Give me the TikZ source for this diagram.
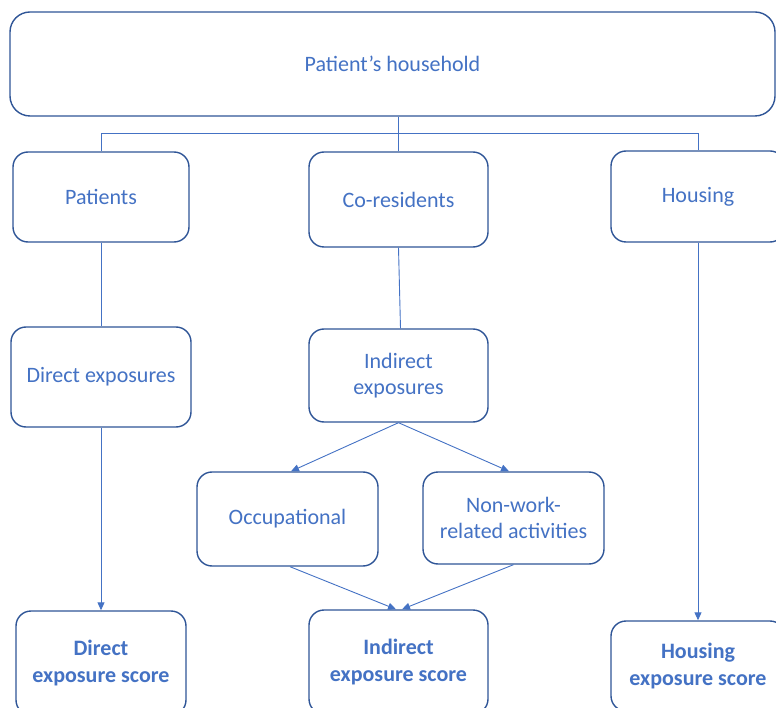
\documentclass[tikz,border=0pt]{standalone}
\usepackage{fontspec}
\setmainfont{Carlito}
\usetikzlibrary{arrows.meta}
\definecolor{boxline}{HTML}{2F5597}
\definecolor{txtblue}{HTML}{4472C4}
\definecolor{lineblue}{HTML}{4472C4}
\begin{document}
\begin{tikzpicture}[x=1pt,y=-1pt,
  box/.style={draw=boxline, line width=1.4pt, rounded corners=15pt, fill=white,
    text=txtblue, align=center, font=\fontsize{22}{26.5}\selectfont, inner sep=0pt},
  scorebox/.style={box, font=\fontsize{22}{26.5}\selectfont\bfseries},
  conn/.style={draw=lineblue, line width=0.9pt},
  arr/.style={conn, -{Triangle[length=8pt,width=7pt]}}]
\useasboundingbox (0,0) rectangle (776,708);
\node[box, minimum width=765pt, minimum height=104pt, rounded corners=20pt] (top) at (392.5,64) {Patient’s household};
\node[box, minimum width=176pt, minimum height=90pt] (pat) at (101,197) {Patients};
\node[box, minimum width=179pt, minimum height=95pt] (cor) at (398.5,199.5) {Co-residents};
\node[box, minimum width=174pt, minimum height=91pt] (hou) at (698,196.5) {Housing};
\node[box, minimum width=180pt, minimum height=100pt] (dexp) at (101,377) {Direct exposures};
\node[box, minimum width=179pt, minimum height=93pt] (iexp) at (398.5,375.5) {Indirect\\exposures};
\node[box, minimum width=181pt, minimum height=94pt] (occ) at (287.5,519) {Occupational};
\node[box, minimum width=181pt, minimum height=92pt] (nw) at (513.5,518) {Non-work-\\related activities};
\node[scorebox, minimum width=170pt, minimum height=104pt] (dscore) at (101,663) {Direct\\exposure score};
\node[scorebox, minimum width=179pt, minimum height=104pt] (iscore) at (398.5,662) {Indirect\\exposure score};
\node[scorebox, minimum width=174pt, minimum height=90pt] (hscore) at (698,666) {Housing\\exposure score};
\coordinate (j) at (398.5,133.5);
\draw[conn] (top.south -| cor.north) -- (cor.north);
\draw[conn] (j) -| (pat.north);
\draw[conn] (j) -| (hou.north);
\draw[conn] (pat.south) -- (dexp.north);
\draw[conn] (cor.south) -- ([xshift=2pt]iexp.north);
\draw[arr] (iexp.south) -- ([xshift=3.5pt]occ.north);
\draw[arr] (iexp.south) -- ([xshift=-4.5pt]nw.north);
\draw[arr] ([xshift=2.5pt]occ.south) -- ([xshift=-2.5pt]iscore.north);
\draw[arr] (nw.south) -- ([xshift=3.5pt]iscore.north);
\draw[arr] (dexp.south) -- (dscore.north);
\draw[arr] (hou.south) -- (hscore.north);
\end{tikzpicture}
\end{document}
